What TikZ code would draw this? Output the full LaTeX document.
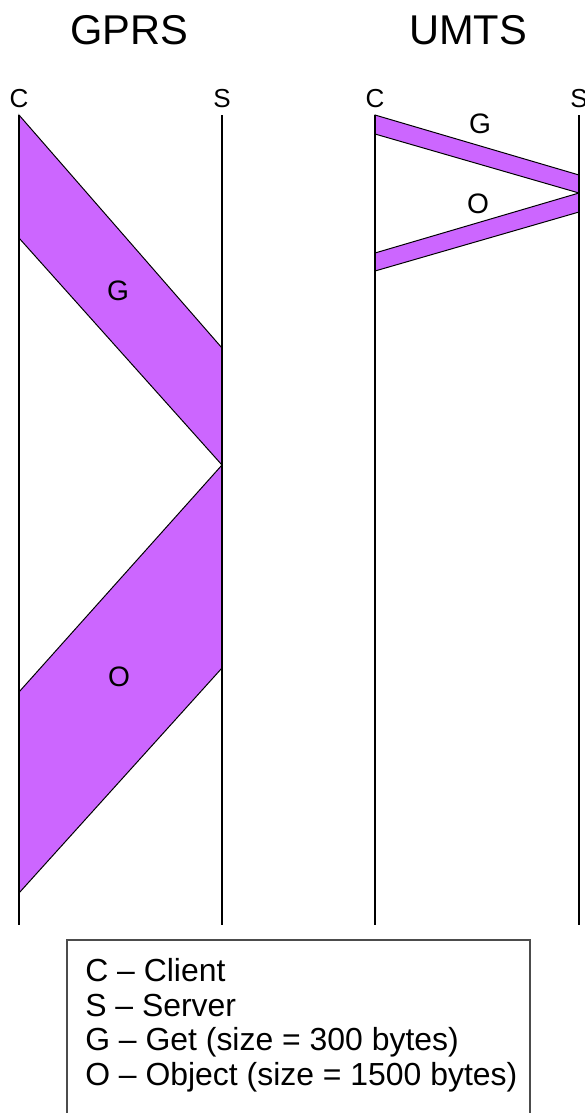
\documentclass[tikz,border=0pt]{standalone}
\usepackage{fontspec}
\setmainfont{Liberation Sans}
\usepackage{xcolor}
\usepackage{tikz}
\usetikzlibrary{positioning, calc}

\definecolor{bandpurple}{RGB}{204,102,255}

\begin{document}
\begin{tikzpicture}[x=0.025cm, y=-0.025cm,
    title/.style={font=\fontsize{29.6}{32}\selectfont},
    endlabel/.style={font=\fontsize{18.5}{20}\selectfont, inner sep=0pt},
    msglabel/.style={font=\fontsize{20}{22}\selectfont, inner sep=0pt},
    timeline/.style={line width=1.2pt},
    band/.style={fill=bandpurple, draw=black, line width=0.7pt, line join=miter},
    legendtext/.style={font=\fontsize{22.7}{24.7}\selectfont, align=left, inner xsep=12.8pt, inner ysep=12.8pt},
    legendframe/.style={draw=black!70, line width=0.8pt}]
    \useasboundingbox (0,0) rectangle (585,1113);
    \clip (0,0) rectangle (585,1113);

    % GPRS side
    \node[title] (gprs) at (129,30) {GPRS};
    \node[endlabel] (gc) at (19,99) {C};
    \node[endlabel] (gs) at (222,99) {S};
    \coordinate (gcend) at (19,925);
    \coordinate (gsend) at (222,925);
    \coordinate (gctop) at (19,115);
    \coordinate (gstop) at (222,115);
    \draw[band] (gctop) -- (222,348) -- (222,465) -- (19,238) -- cycle;
    \draw[band] (222,465) -- (222,668) -- (19,893) -- (19,692) -- cycle;
    \draw[timeline] (gctop) -- (gcend);
    \draw[timeline] (gstop) -- (gsend);
    \node[msglabel] (gget) at (118,291) {G};
    \node[msglabel] (gobj) at (119,677) {O};

    % UMTS side
    \node[title] (umts) at (468,30) {UMTS};
    \node[endlabel] (uc) at (375,99) {C};
    \node[endlabel] (us) at (579,99) {S};
    \coordinate (ucend) at (375,925);
    \coordinate (usend) at (579,925);
    \coordinate (uctop) at (375,115);
    \coordinate (ustop) at (579,115);
    \draw[band] (uctop) -- (579,175) -- (579,193) -- (375,134) -- cycle;
    \draw[band] (579,193) -- (579,212) -- (375,271) -- (375,253) -- cycle;
    \draw[timeline] (uctop) -- (ucend);
    \draw[timeline] (ustop) -- (usend);
    \node[msglabel] (uget) at (480,124) {G};
    \node[msglabel] (uobj) at (478,204) {O};

    % Legend
    \node[legendtext, anchor=north west] (legend) at (67,940) {C -- Client\\S -- Server\\G -- Get (size = 300 bytes)\\O -- Object (size = 1500 bytes)};
    \coordinate (legendse) at (530,1130);
    \draw[legendframe] (legend.north west) rectangle (legendse);
\end{tikzpicture}
\end{document}
